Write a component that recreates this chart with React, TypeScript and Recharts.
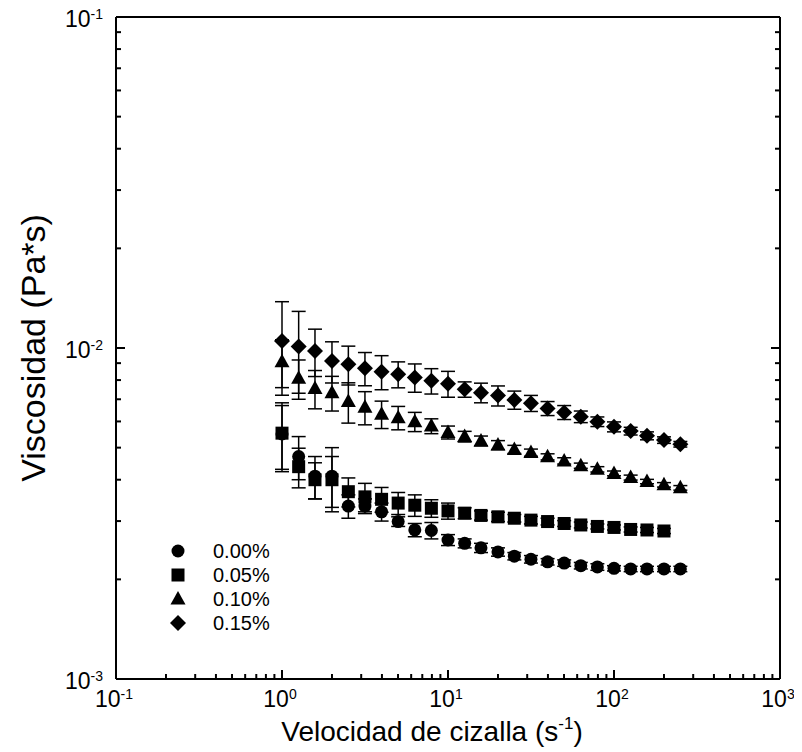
import React from 'react';
import { ScatterChart, Scatter, XAxis, YAxis, ErrorBar, Legend } from 'recharts';

// shear rate points (s^-1)
const shearRate = [1, 1.26, 1.58, 2, 2.51, 3.16, 3.98, 5.01, 6.31, 7.94, 10, 12.6, 15.8, 20, 25.1, 31.6, 39.8, 50.1, 63.1, 79.4, 100, 126, 158, 200, 251];

const visc000 = [0.0055, 0.0047, 0.0041, 0.0041, 0.00333, 0.00333, 0.0032, 0.00299, 0.00282, 0.00281, 0.00263, 0.00257, 0.00249, 0.00242, 0.00235, 0.0023, 0.00226, 0.00224, 0.0022, 0.00218, 0.00216, 0.00215, 0.00215, 0.00215, 0.00215];
const err000 = [0.0012, 0.0007, 0.0006, 0.0009, 0.00027, 0.00017, 0.0002, 0.0001, 0.00013, 0.00016, 0.0001, 0.00008, 0.00008, 0.00007, 0.00006, 0.00006, 0.00005, 0.00005, 0.00005, 0.00005, 0.00004, 0.00004, 0.00004, 0.00004, 0.00004];

const visc005 = [0.00553, 0.00438, 0.004, 0.004, 0.00368, 0.00355, 0.00349, 0.0034, 0.00335, 0.00328, 0.00322, 0.00317, 0.00312, 0.00309, 0.00306, 0.00302, 0.00299, 0.00295, 0.00292, 0.00289, 0.00287, 0.00283, 0.00282, 0.0028];
const err005 = [0.0013, 0.0006, 0.0005, 0.0007, 0.00037, 0.00035, 0.0003, 0.00026, 0.00025, 0.0002, 0.00018, 0.00012, 0.0001, 0.0001, 0.00008, 0.00008, 0.00007, 0.00006, 0.00006, 0.00005, 0.00005, 0.00005, 0.00005, 0.00005];

const visc010 = [0.00909, 0.0081, 0.00755, 0.00733, 0.00689, 0.00662, 0.00631, 0.00616, 0.00599, 0.00581, 0.00556, 0.0054, 0.00524, 0.00509, 0.00494, 0.00483, 0.00469, 0.00456, 0.00441, 0.0043, 0.00418, 0.00406, 0.00395, 0.00386, 0.00378];
const err010 = [0.0015, 0.0011, 0.001, 0.00088, 0.00096, 0.00076, 0.0006, 0.0005, 0.0004, 0.0003, 0.00025, 0.0002, 0.00018, 0.00016, 0.00014, 0.00012, 0.0001, 0.0001, 0.00008, 0.00008, 0.00007, 0.00007, 0.00006, 0.00006, 0.00006];

const visc015 = [0.0105, 0.0101, 0.0098, 0.00914, 0.00893, 0.00869, 0.00848, 0.00833, 0.00815, 0.00796, 0.0078, 0.0075, 0.00733, 0.00718, 0.00697, 0.00681, 0.00657, 0.00639, 0.0062, 0.00599, 0.00578, 0.00561, 0.00543, 0.00527, 0.00512];
const err015 = [0.0033, 0.0028, 0.0016, 0.0013, 0.0012, 0.001, 0.001, 0.00075, 0.0008, 0.0007, 0.0007, 0.0004, 0.0005, 0.0005, 0.00044, 0.00038, 0.00032, 0.00031, 0.00025, 0.0002, 0.0002, 0.00015, 0.00015, 0.00012, 0.0001];

const seriesLabels = ['0.00%', '0.05%', '0.10%', '0.15%'];
const markerKinds = ['circle', 'square', 'triangle', 'diamond'];

const xMajor = [0.1, 1, 10, 100, 1000];
const xTicks = [0.1, 0.2, 0.3, 0.4, 0.5, 0.6, 0.7, 0.8, 0.9, 1, 2, 3, 4, 5, 6, 7, 8, 9, 10, 20, 30, 40, 50, 60, 70, 80, 90, 100, 200, 300, 400, 500, 600, 700, 800, 900, 1000];
const yMajor = [0.001, 0.01, 0.1];
const yTicks = [0.001, 0.002, 0.003, 0.004, 0.005, 0.006, 0.007, 0.008, 0.009, 0.01, 0.02, 0.03, 0.04, 0.05, 0.06, 0.07, 0.08, 0.09, 0.1];

const FONT = '"Liberation Sans", Arial, sans-serif';

const toPoints = (ys: number[], errs: number[]) =>
  ys.map((y, i) => ({ x: shearRate[i], y, err: errs[i] }));

const series = [
  toPoints(visc000, err000),
  toPoints(visc005, err005),
  toPoints(visc010, err010),
  toPoints(visc015, err015),
];

const isMajor = (list: number[], v: number) => list.some((m) => Math.abs(m - v) / m < 1e-6);
const expOf = (v: number) => Math.round(Math.log10(v));

const Marker = ({ kind, cx, cy }: { kind: string; cx: number; cy: number }) => {
  if (kind === 'circle') return <circle cx={cx} cy={cy} r={6.5} fill="#000" />;
  if (kind === 'square') return <rect x={cx - 6.5} y={cy - 6.5} width={13} height={13} fill="#000" />;
  if (kind === 'triangle')
    return <polygon points={`${cx},${cy - 8} ${cx + 7.5},${cy + 5.5} ${cx - 7.5},${cy + 5.5}`} fill="#000" />;
  return <polygon points={`${cx},${cy - 8} ${cx + 8},${cy} ${cx},${cy + 8} ${cx - 8},${cy}`} fill="#000" />;
};

const PowerLabel = ({ x, y, v, anchor }: { x: number; y: number; v: number; anchor: string }) => (
  <text x={x} y={y} textAnchor={anchor} fontFamily={FONT} fontSize={23} fill="#000">
    <tspan>10</tspan>
    <tspan dy={-8} fontSize={14}>{expOf(v)}</tspan>
  </text>
);

const BottomTick = (props: any) => {
  const { x, y, payload } = props;
  const major = isMajor(xMajor, payload.value);
  return (
    <g>
      <line x1={x} y1={y} x2={x} y2={y - (major ? 9 : 5)} stroke="#000" strokeWidth={2} />
      {major && <PowerLabel x={x - 2} y={y + 28} v={payload.value} anchor="middle" />}
    </g>
  );
};

const TopTick = (props: any) => {
  const { x, y, payload } = props;
  const major = isMajor(xMajor, payload.value);
  return <line x1={x} y1={y} x2={x} y2={y + (major ? 9 : 5)} stroke="#000" strokeWidth={2} />;
};

const LeftTick = (props: any) => {
  const { x, y, payload } = props;
  const major = isMajor(yMajor, payload.value);
  return (
    <g>
      <line x1={x} y1={y} x2={x + (major ? 9 : 5)} y2={y} stroke="#000" strokeWidth={2} />
      {major && <PowerLabel x={x - 13} y={y + 10} v={payload.value} anchor="end" />}
    </g>
  );
};

const RightTick = (props: any) => {
  const { x, y, payload } = props;
  const major = isMajor(yMajor, payload.value);
  return <line x1={x} y1={y} x2={x - (major ? 9 : 5)} y2={y} stroke="#000" strokeWidth={2} />;
};

const XTitle = (props: any) => {
  const { x, y, width } = props.viewBox;
  return (
    <text x={x + width / 2 - 16} y={y + 62} textAnchor="middle" fontFamily={FONT} fontSize={28} fill="#000">
      <tspan>Velocidad de cizalla (s</tspan>
      <tspan dy={-12} fontSize={17}>-1</tspan>
      <tspan dy={12}>)</tspan>
    </text>
  );
};

const YTitle = (props: any) => {
  const { x, y, height } = props.viewBox;
  const cx = x + 33;
  const cy = y + height / 2;
  return (
    <text x={cx} y={cy} transform={`rotate(-90 ${cx} ${cy})`} textAnchor="middle" dominantBaseline="central" fontFamily={FONT} fontSize={34} fill="#000">
      Viscosidad (Pa*s)
    </text>
  );
};

const LegendBox = () => (
  <svg width={140} height={110}>
    {seriesLabels.map((label, i) => (
      <g key={label}>
        <Marker kind={markerKinds[i]} cx={18} cy={12 + i * 24} />
        <text x={53} y={12 + i * 24 + 7} fontFamily={FONT} fontSize={20} fill="#000">{label}</text>
      </g>
    ))}
  </svg>
);

export default function App() {
  return (
    <div style={{ margin: '-8px 0 0 -8px' }}>
      <ScatterChart width={802} height={752} margin={{ top: 0, right: 0, bottom: 0, left: 0 }}>
        <XAxis
          dataKey="x"
          type="number"
          scale="log"
          domain={[0.1, 1000]}
          allowDataOverflow
          ticks={xTicks}
          interval={0}
          tickSize={0}
          tickMargin={0}
          tick={<BottomTick />}
          axisLine={{ stroke: '#000', strokeWidth: 2 }}
          height={73}
          label={{ content: <XTitle /> }}
        />
        <XAxis
          xAxisId="top"
          orientation="top"
          type="number"
          scale="log"
          domain={[0.1, 1000]}
          allowDataOverflow
          ticks={xTicks}
          interval={0}
          tickSize={0}
          tickMargin={0}
          tick={<TopTick />}
          axisLine={{ stroke: '#000', strokeWidth: 2 }}
          height={17}
        />
        <YAxis
          dataKey="y"
          type="number"
          scale="log"
          domain={[0.001, 0.1]}
          allowDataOverflow
          ticks={yTicks}
          interval={0}
          tickSize={0}
          tickMargin={0}
          tick={<LeftTick />}
          axisLine={{ stroke: '#000', strokeWidth: 2 }}
          width={116}
          label={{ content: <YTitle /> }}
        />
        <YAxis
          yAxisId="right"
          orientation="right"
          type="number"
          scale="log"
          domain={[0.001, 0.1]}
          allowDataOverflow
          ticks={yTicks}
          interval={0}
          tickSize={0}
          tickMargin={0}
          tick={<RightTick />}
          axisLine={{ stroke: '#000', strokeWidth: 2 }}
          width={22}
        />
        <Legend
          layout="vertical"
          align="center"
          verticalAlign="middle"
          content={<LegendBox />}
          wrapperStyle={{ left: 160, top: 539, width: 140, height: 110 }}
        />
        {series.map((data, i) => (
          <Scatter
            key={seriesLabels[i]}
            name={seriesLabels[i]}
            data={data}
            fill="#000"
            isAnimationActive={false}
            shape={(p: any) => <Marker kind={markerKinds[i]} cx={p.cx} cy={p.cy} />}
          >
            <ErrorBar dataKey="err" direction="y" width={7} stroke="#000" strokeWidth={1.5} />
          </Scatter>
        ))}
      </ScatterChart>
    </div>
  );
}
